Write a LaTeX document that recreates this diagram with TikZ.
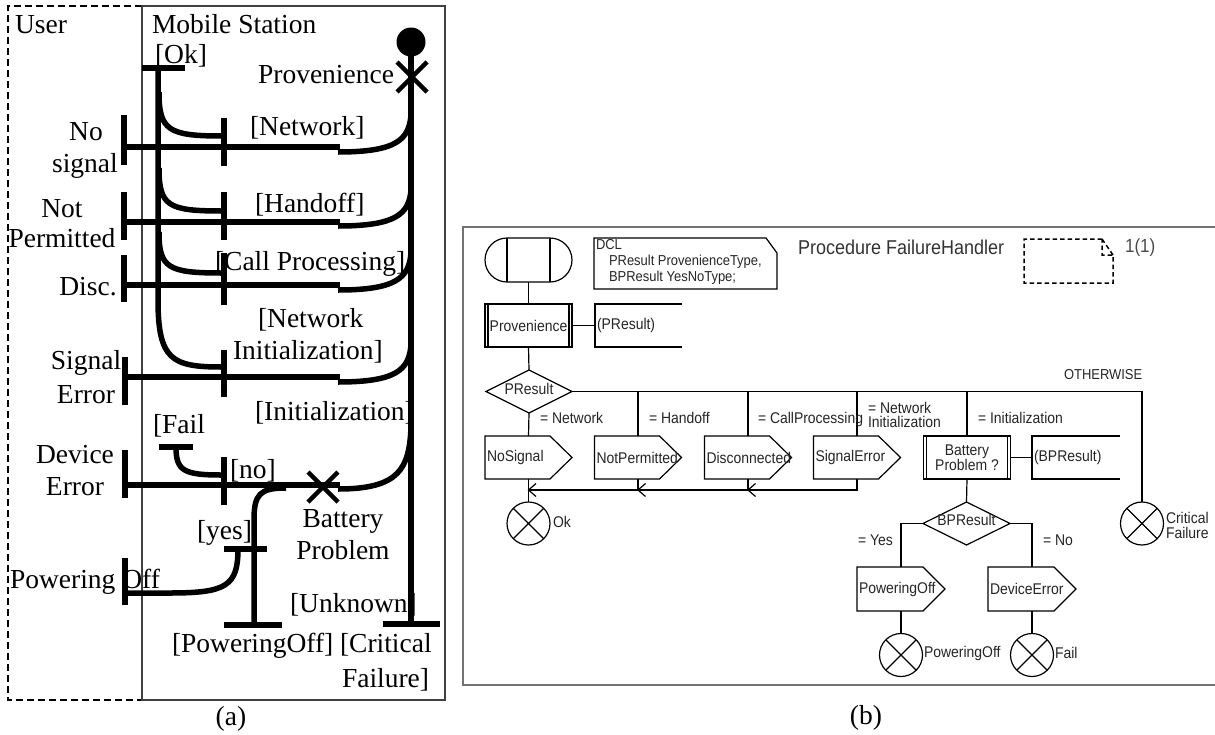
\documentclass[tikz,border=0pt]{standalone}
\usepackage{fontspec}
\setmainfont{Liberation Serif}
\newfontfamily\sdlfont[FakeStretch=0.9]{Liberation Sans}
\usetikzlibrary{shapes.geometric,calc}

% SDL output signal: a box with a pointer to the east
\newcommand\sdlsignal[1]{%
  \draw[sdlline] (#1.north west) -- ([xshift=-22pt]#1.north east) -- (#1.east)
    -- ([xshift=-22pt]#1.south east) -- (#1.south west) -- cycle;}
% SDL procedure call: extra inner lines on both sides
\newcommand\sdlproc[1]{%
  \draw[sdlline] ([xshift=3pt]#1.north west) -- ([xshift=3pt]#1.south west)
    ([xshift=-3pt]#1.north east) -- ([xshift=-3pt]#1.south east);}
% SDL comment bracket, open to the east
\newcommand\sdlcomment[1]{%
  \draw[sdlline] (#1.north east) -- (#1.north west) -- (#1.south west) -- (#1.south east);}
% open arrowhead on the merge line, pointing west
\newcommand\sdlarrow[1]{%
  \draw[sdlline] ($(#1)+(7.5,-6.5)$) -- (#1) -- ($(#1)+(7.5,6.5)$);}

\begin{document}
\begin{tikzpicture}[x=1pt,y=-1pt,
  every node/.style={inner sep=0pt, outer sep=0pt},
  msc/.style={font=\fontsize{27.5}{30}\selectfont},
  life/.style={line width=5.5pt},
  frameline/.style={line width=1.2pt, black!75},
  sdl/.style={font=\sdlfont\fontsize{15.5}{15}\selectfont, text=black!85},
  sdlsmall/.style={font=\sdlfont\fontsize{14.4}{16}\selectfont, text=black!85},
  sdlline/.style={line width=1.2pt},
  sigbody/.style={minimum width=87pt, minimum height=43pt},
  procbox/.style={draw, sdlline, minimum width=87pt, minimum height=43pt, sdl},
  decision/.style={draw, sdlline, diamond, minimum width=86pt, minimum height=43pt},
  term/.style={draw, sdlline, circle, minimum size=43pt,
    path picture={\draw[sdlline]
      (path picture bounding box.north west) -- (path picture bounding box.south east)
      (path picture bounding box.south west) -- (path picture bounding box.north east);}},
]
\fill[white] (0,0) rectangle (1215,734);
\useasboundingbox (0,0) rectangle (1215,734);

%% ---------------- (a) message sequence ----------------
\draw[line width=1.2pt, dash pattern=on 7pt off 4pt] (142,6) -- (8,6) -- (8,700) -- (142,700);
\draw[frameline] (142,6) rectangle (445,700);

\node[msc, anchor=base west] (user) at (15,33) {User};
\node[msc, anchor=base west] (mst) at (152,33) {Mobile Station};

% main lifeline with start, Provenience and final bar
\fill (411,42) circle (14.5);
\draw[life] (411,42) -- (411,624);
\draw[life] (383,624) -- (440,624);
\draw[line width=4.5pt] (397,62) -- (427,92) (397,92) -- (427,62);
\node[msc, anchor=base east] (provl) at (394,83) {Provenience};

% Ok lifeline with its branches
\node[msc, anchor=base west] (okl) at (155,63) {[Ok]};
\draw[life] (142,68) -- (185,68);
\draw[life] (158,68) -- (158,300) .. controls (158,360) and (172,367) .. (222,367);
\draw[life] (159,92) .. controls (159,130) and (168,136) .. (222,136);
\draw[life] (159,168) .. controls (159,206) and (168,211) .. (222,211);
\draw[life] (159,232) .. controls (159,268) and (168,273) .. (222,273);

% receiving bars on the Ok side
\draw[life] (224,118) -- (224,166);
\draw[life] (224,192) -- (224,240);
\draw[life] (224,253) -- (224,305);
\draw[life] (224,350) -- (224,397);
\draw[life] (224,457) -- (224,505);

% bars on the User side
\draw[life] (124,115) -- (124,165);
\draw[life] (124,192) -- (124,240);
\draw[life] (124,255) -- (124,302);
\draw[life] (125,357) -- (125,405);
\draw[life] (125,450) -- (125,498);
\draw[life] (125,558) -- (125,605);

% messages from the main lifeline
\draw[life] (124,147) -- (340,147);
\draw[life] (338,152) .. controls (396,152) and (409,140) .. (411,115);
\draw[life] (124,222) -- (340,222);
\draw[life] (338,226) .. controls (396,226) and (409,214) .. (411,190);
\draw[life] (124,285) -- (340,285);
\draw[life] (338,290) .. controls (396,290) and (409,278) .. (411,253);
\draw[life] (125,377) -- (340,377);
\draw[life] (338,382) .. controls (396,382) and (409,370) .. (411,345);
\draw[life] (125,485) -- (340,485);
\draw[life] (338,489) .. controls (400,489) and (409,468) .. (411,428);

% Battery Problem
\draw[line width=4.5pt] (308,472) -- (338,502) (308,502) -- (338,472);
\node[msc, anchor=base] (batl1) at (343,527) {Battery};
\node[msc, anchor=base] (batl2) at (343,559) {Problem};

% Fail branch
\draw[life] (159,447) -- (193,447);
\draw[life] (176,447) .. controls (176,471) and (184,475) .. (222,475);

% yes branch
\draw[life] (286,488) .. controls (260,488) and (254,494) .. (254,520) -- (254,625);
\draw[life] (224,625) -- (282,625);
\draw[life] (224,549) -- (267,549);
\draw[life] (238,549) .. controls (238,586) and (226,593) .. (170,593) -- (125,593);

% labels on the User side
\node[msc, anchor=base] (l1a) at (86,140) {No};
\node[msc, anchor=base] (l1b) at (85,172) {signal};
\node[msc, anchor=base] (l2a) at (62,217) {Not};
\node[msc, anchor=base] (l2b) at (62,247) {Permitted};
\node[msc, anchor=base] (l3) at (88,295) {Disc.};
\node[msc, anchor=base] (l4a) at (86,369) {Signal};
\node[msc, anchor=base] (l4b) at (86,403) {Error};
\node[msc, anchor=base] (l5a) at (75,463) {Device};
\node[msc, anchor=base] (l5b) at (75,495) {Error};
\node[msc, anchor=base west] (l6) at (10,588) {Powering Off};

% labels on the Mobile Station side
\node[msc, anchor=base west] (m1) at (250,135) {[Network]};
\node[msc, anchor=base west] (m2) at (255,212) {[Handoff]};
\node[msc, anchor=base west] (m3) at (215,270) {[Call Processing]};
\node[msc, anchor=base west] (m4a) at (258,327) {[Network};
\node[msc, anchor=base west] (m4b) at (233,359) {Initialization]};
\node[msc, anchor=base west] (m5) at (255,420) {[Initialization]};
\node[msc, anchor=base west] (m6) at (153,433) {[Fail};
\node[msc, anchor=base west] (m7) at (230,478) {[no]};
\node[msc, anchor=base west] (m8) at (197,539) {[yes]};
\node[msc, anchor=base west] (m9) at (290,612) {[Unknown]};
\node[msc, anchor=base west] (m10) at (172,652) {[PoweringOff]};
\node[msc, anchor=base west] (m11a) at (340,652) {[Critical};
\node[msc, anchor=base west] (m11b) at (342,687) {Failure]};

\node[msc, anchor=base] (capa) at (231,725) {(a)};

%% ---------------- (b) SDL procedure ----------------
\draw[line width=1.5pt, black!55] (1215,227) -- (463,227) -- (463,685) -- (1215,685);

% header
\node[font=\sdlfont\fontsize{20}{22}\selectfont, text=black!80, anchor=base west] (title) at (798,254) {Procedure FailureHandler};
\draw[line width=1.5pt, dash pattern=on 4.5pt off 3pt]
  (1102,239) -- (1024,239) -- (1024,283) -- (1113,283) -- (1113,255) -- (1102,255) -- cycle
  (1102,239) -- (1113,255);
\node[font=\sdlfont\fontsize{19}{22}\selectfont, text=black!70, anchor=base west] (pageno) at (1125,252) {1(1)};

% declaration
\draw[sdlline] (766,238) -- (594,238) -- (594,289) -- (777,289) -- (777,253) -- cycle;
\node[sdlsmall, anchor=base west] (dcl1) at (596,249) {DCL};
\node[sdlsmall, anchor=base west] (dcl2) at (609,265) {PResult ProvenienceType,};
\node[sdlsmall, anchor=base west] (dcl3) at (609,281) {BPResult YesNoType;};

% start
\node[draw, sdlline, minimum width=87pt, minimum height=44pt, rounded corners=22pt] (start) at (528.5,260) {};
\draw[sdlline] ([xshift=22pt]start.north west) -- ([xshift=22pt]start.south west)
  ([xshift=-22pt]start.north east) -- ([xshift=-22pt]start.south east);

% Provenience call
\node[procbox] (prov) at (528.5,325.5) {Provenience};
\sdlproc{prov}
\node[sigbody, anchor=west] (pres) at (595,325.5) {};
\sdlcomment{pres}
\node[sdl, anchor=west] (presl) at ([xshift=2pt]pres.west) {(PResult)};
\draw[sdlline] (start.south) -- (prov.north);
\draw[sdlline] (prov.east) -- (pres.west);

% decision PResult and its OTHERWISE end
\node[decision] (d1) at (529,391.5) {};
\node[sdl] (d1l) at (529,388.5) {PResult};
\draw[sdlline] (prov.south) -- (d1.north);
\node[term] (crit) at (1142,523.5) {};
\node[sdl, anchor=west, align=left] (critl) at (1166,525) {Critical\\Failure};
\coordinate (ow) at (1142,391.5);
\draw[sdlline] (d1.east) -- (ow) -- (crit.north);
\node[sdlsmall, anchor=base west] (a6) at (1064,379) {OTHERWISE};

% answers
\node[sigbody] (nos) at (528.5,457.5) {};
\node[sigbody] (np)  at (638,457.5) {};
\node[sigbody] (dc)  at (748,457.5) {};
\node[sigbody] (se)  at (857,457.5) {};
\foreach \s in {nos,np,dc,se} {\sdlsignal{\s}}
\node[sdl, anchor=west] at ([xshift=2pt]nos.west) {NoSignal};
\node[sdl, anchor=west] at ([xshift=2pt]np.west) {NotPermitted};
\node[sdl, anchor=west] at ([xshift=2pt]dc.west) {Disconnected};
\node[sdl, anchor=west] at ([xshift=2pt]se.west) {SignalError};

\draw[sdlline] (d1.south) -- (nos.north);
\draw[sdlline] (np.north |- ow) -- (np.north);
\draw[sdlline] (dc.north |- ow) -- (dc.north);
\draw[sdlline] (se.north |- ow) -- (se.north);

\node[sdl, anchor=base west] (a1) at (540,423) {= Network};
\node[sdl, anchor=base west] (a2) at (649,423) {= Handoff};
\node[sdl, anchor=base west] (a3) at (758,423) {= CallProcessing};
\node[sdl, anchor=base west] (a4a) at (868,413) {= Network};
\node[sdl, anchor=base west] (a4b) at (868,427) {Initialization};
\node[sdl, anchor=base west] (a5) at (978,423) {= Initialization};

% merge into Ok
\coordinate (mj) at (528.5,490);
\coordinate (j1) at (np.south |- mj);
\coordinate (j2) at (dc.south |- mj);
\draw[sdlline] (se.south) -- (se.south |- mj) -- (mj);
\draw[sdlline] (np.south) -- (j1);
\draw[sdlline] (dc.south) -- (j2);
\sdlarrow{mj}
\sdlarrow{j1}
\sdlarrow{j2}
\node[term] (ok) at (528.5,523.5) {};
\draw[sdlline] (nos.south) -- (ok.north);
\node[sdl, anchor=west] (okl2) at (553,521.5) {Ok};

% Battery Problem call
\node[procbox, align=center, font=\sdlfont\fontsize{15.5}{15}\selectfont] (bat) at (967,457.5) {Battery\\Problem ?};
\sdlproc{bat}
\draw[sdlline] (bat.north |- ow) -- (bat.north);
\node[sigbody, minimum width=88pt, anchor=west] (bpres) at (1032,457.5) {};
\sdlcomment{bpres}
\node[sdl, anchor=west] (bpresl) at ([xshift=2pt]bpres.west) {(BPResult)};
\draw[sdlline] (bat.east) -- (bpres.west);

% decision BPResult
\node[decision, minimum width=87pt] (d2) at (966.5,523.5) {};
\node[sdl] (d2l) at (966.5,520) {BPResult};
\draw[sdlline] (bat.south) -- (d2.north);

\node[sigbody, minimum width=88pt, minimum height=44pt] (pof) at (901,589) {};
\node[sigbody, minimum width=88pt, minimum height=44pt] (de)  at (1032,589) {};
\sdlsignal{pof}
\sdlsignal{de}
\node[sdl, anchor=west] at ([xshift=2pt]pof.west) {PoweringOff};
\node[sdl, anchor=west] at ([xshift=2pt]de.west) {DeviceError};
\draw[sdlline] (d2.west) -- (d2.west -| pof.north) -- (pof.north);
\draw[sdlline] (d2.east) -- (d2.east -| de.north) -- (de.north);
\node[sdl, anchor=base west] (yes) at (858,545) {= Yes};
\node[sdl, anchor=base west] (no) at (1043,545) {= No};

\node[term] (t2) at (901,655) {};
\node[term] (t3) at (1032,655) {};
\draw[sdlline] (pof.south) -- (t2.north);
\draw[sdlline] (de.south) -- (t3.north);
\node[sdl, anchor=west] (t2l) at (924,653) {PoweringOff};
\node[sdl, anchor=west] (t3l) at (1055,653) {Fail};

\node[msc, anchor=base] (capb) at (866,724) {(b)};
\end{tikzpicture}
\end{document}
